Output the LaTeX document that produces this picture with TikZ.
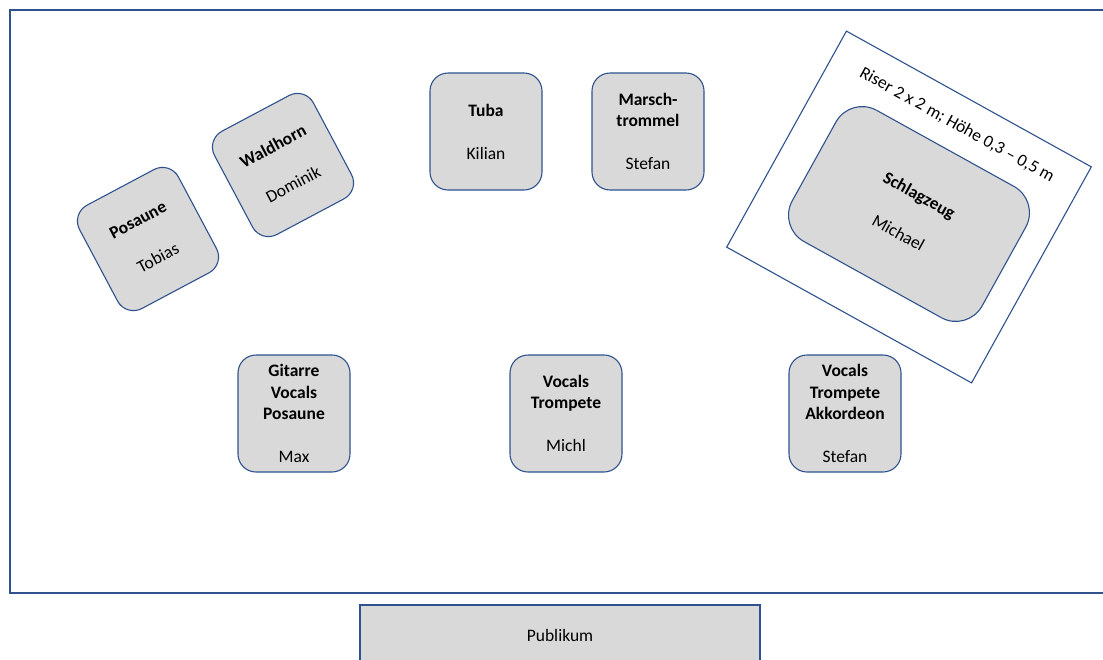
\documentclass[tikz,border=0pt]{standalone}
\usepackage{fontspec}
\setmainfont{Carlito}
\definecolor{edgeblue}{HTML}{2F528F}
\definecolor{boxgray}{HTML}{D9D9D9}
\begin{document}
\begin{tikzpicture}[x=1pt,y=-1pt,
  every node/.style={font=\fontsize{17.5}{21.5}\selectfont},
  instr/.style={draw=edgeblue,fill=boxgray,line width=1.1pt,rounded corners=18pt,
    minimum width=112pt,minimum height=117pt,align=center,inner sep=0pt},
  drum/.style={draw=edgeblue,fill=boxgray,line width=1.1pt,rounded corners=30pt,
    minimum width=217pt,minimum height=150pt,align=center,inner sep=0pt},
  riser/.style={draw=edgeblue,fill=white,line width=1.1pt,
    minimum width=280pt,minimum height=247pt,inner sep=0pt},
  audience/.style={draw=edgeblue,fill=boxgray,line width=1.1pt,
    minimum width=400pt,minimum height=60pt,inner sep=0pt}]
\clip (0,0) rectangle (1103,659);
\useasboundingbox (0,0) rectangle (1103,659);
\fill[white] (0,0) rectangle (1103,659);
% stage
\draw[edgeblue,line width=1.1pt] (10,10) rectangle (1120,593);
% riser
\node[riser,rotate=-29] (riser) at (909,207) {};
\node[rotate=-29,inner sep=0pt] (risertext) at (957,125) {Riser 2 x 2 m; Höhe 0,3 – 0,5 m};
\node[drum,rotate=-29] (drums) at (909,214) {\textbf{Schlagzeug}\\[21.5pt]Michael};
% instruments
\node[instr,rotate=28] (posaune) at (148,239) {\textbf{Posaune}\\[21.5pt]Tobias};
\node[instr,rotate=28] (waldhorn) at (283,165) {\textbf{Waldhorn}\\[21.5pt]Dominik};
\node[instr] (tuba) at (486,131.5) {\textbf{Tuba}\\[21.5pt]Kilian};
\node[instr] (marsch) at (648,131.5) {\textbf{Marsch-}\\\textbf{trommel}\\[21.5pt]Stefan};
\node[instr] (max) at (294,413.5) {\textbf{Gitarre}\\\textbf{Vocals}\\\textbf{Posaune}\\[21.5pt]Max};
\node[instr] (michl) at (566,413.5) {\textbf{Vocals}\\\textbf{Trompete}\\[21.5pt]Michl};
\node[instr] (stefan) at (845,413.5) {\textbf{Vocals}\\\textbf{Trompete}\\\textbf{Akkordeon}\\[21.5pt]Stefan};
% audience
\node[audience] (publikum) at (560,635) {Publikum};
\end{tikzpicture}
\end{document}
